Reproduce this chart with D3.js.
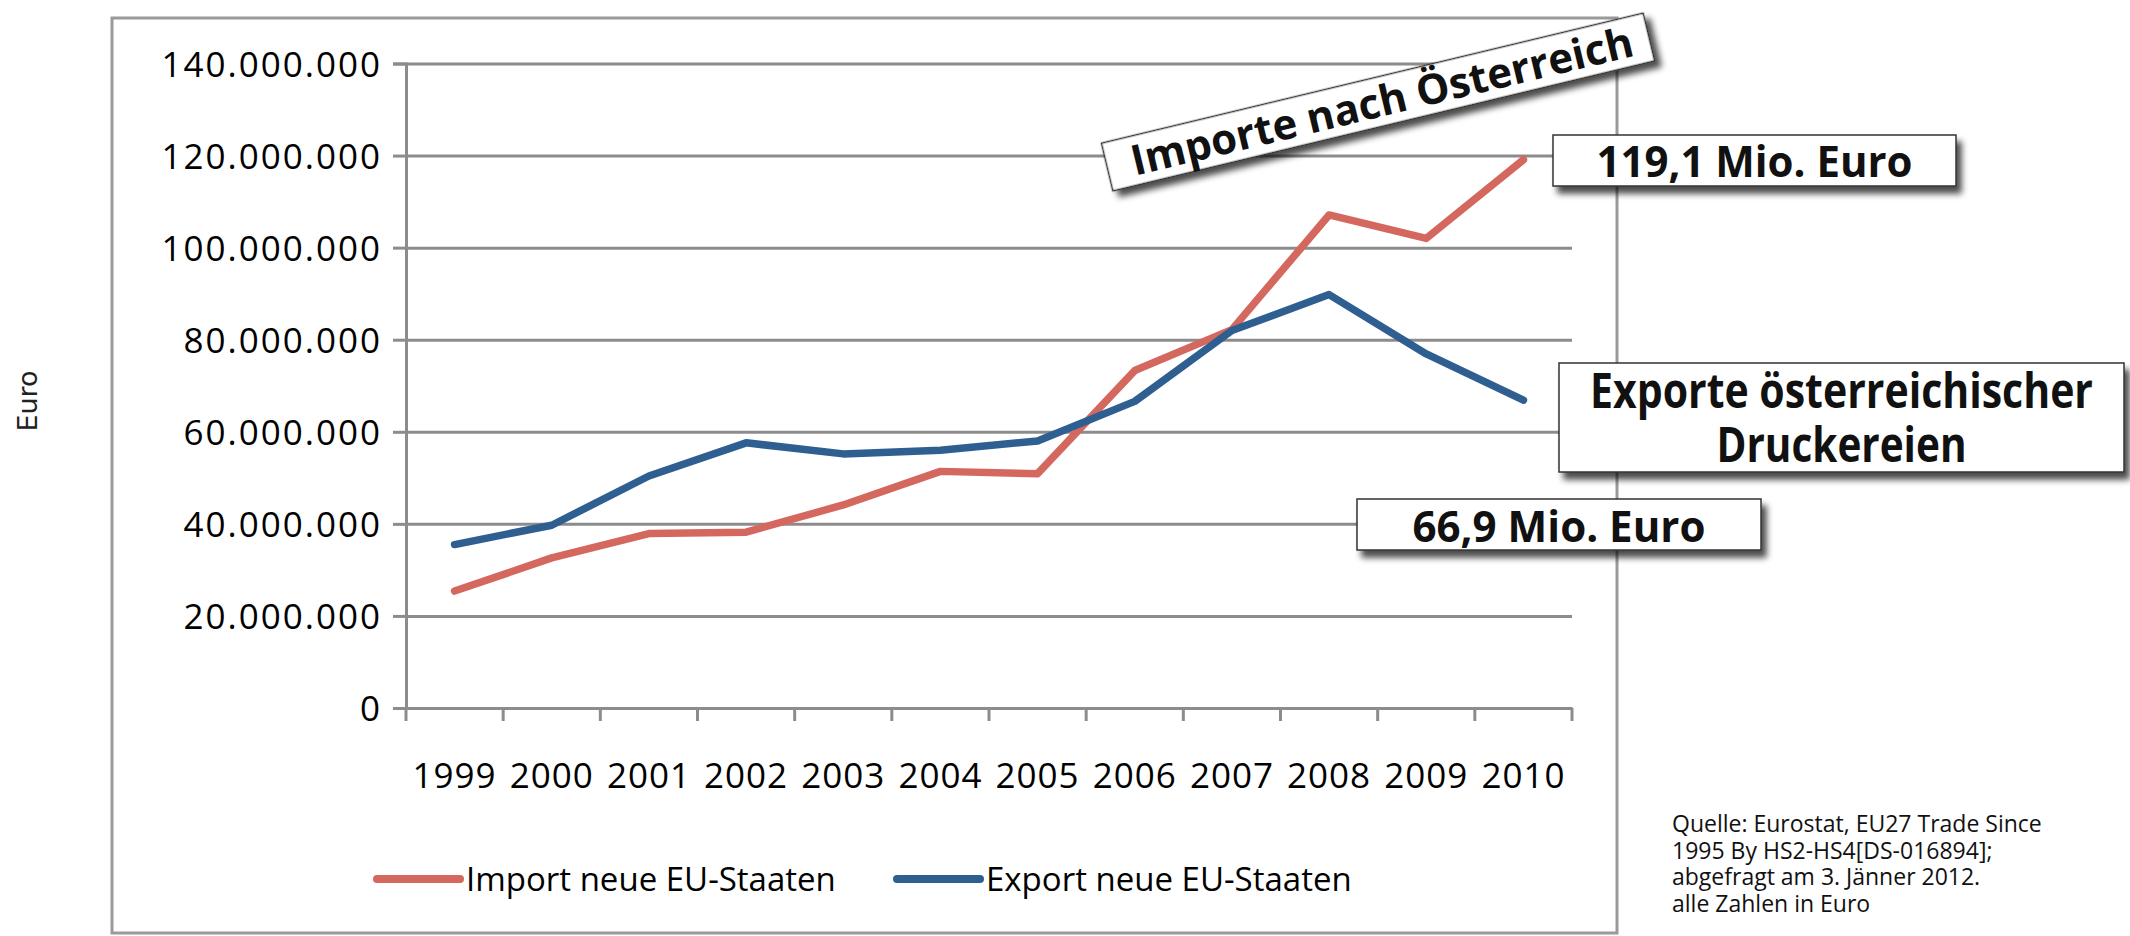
<!DOCTYPE html>
<html>
<head>
<meta charset="utf-8">
<script src="https://cdn.jsdelivr.net/npm/d3@7"></script>
<style>
  html, body { margin: 0; padding: 0; background: #fff; }
  svg { display: block; }
</style>
</head>
<body>
<div id="chart"></div>
<script>
// data
const years = ["1999", "2000", "2001", "2002", "2003", "2004", "2005", "2006", "2007", "2008", "2009", "2010"];
const importValues = [25400000, 32600000, 37900000, 38200000, 44100000, 51400000, 50900000, 73300000, 82200000, 107100000, 102000000, 119100000];
const exportValues = [35500000, 39700000, 50400000, 57600000, 55200000, 56000000, 58000000, 66600000, 82000000, 89800000, 76900000, 66900000];
const yTicks = [0, 20000000, 40000000, 60000000, 80000000, 100000000, 120000000, 140000000];
const seriesNames = ["Import neue EU-Staaten", "Export neue EU-Staaten"];
const seriesColors = ["#d4685f", "#2f5f91"];
const noteLines = [
  "Quelle: Eurostat, EU27 Trade Since",
  "1995 By HS2-HS4[DS-016894];",
  "abgefragt am 3. Jänner 2012.",
  "alle Zahlen in Euro"
];

const width = 2130, height = 936;
const plot = {left: 406, right: 1572, top: 63.5, bottom: 708};
const gridColor = "#8c8c8c";
const labelFont = "'Open Sans', sans-serif";
const boldFont = "'Open Sans', sans-serif";

const de = d3.formatLocale({decimal: ",", thousands: ".", grouping: [3], currency: ["", " €"]});
const fmtAxis = de.format(",d");
const fmtMio = de.format(",.1f");

const svg = d3.select("#chart")
  .append("svg")
    .attr("width", width)
    .attr("height", height);

const defs = svg.append("defs");
const shadow = defs.append("filter")
    .attr("id", "shadow")
    .attr("x", "-10%").attr("y", "-30%")
    .attr("width", "125%").attr("height", "190%");
shadow.append("feDropShadow")
    .attr("dx", 5).attr("dy", 7)
    .attr("stdDeviation", 3)
    .attr("flood-color", "#000")
    .attr("flood-opacity", 0.7);

// chart frame
svg.append("rect")
    .attr("x", 112).attr("y", 18)
    .attr("width", 1617 - 112).attr("height", 933 - 18)
    .attr("fill", "none")
    .attr("stroke", "#9a9a9a")
    .attr("stroke-width", 3);

const x = d3.scaleBand()
    .domain(years)
    .range([plot.left, plot.right])
    .padding(0);

const y = d3.scaleLinear()
    .domain([0, 140000000])
    .range([plot.bottom, plot.top]);

// gridlines
const grid = svg.append("g")
    .attr("transform", `translate(${plot.left},0)`)
    .call(d3.axisLeft(y).tickValues(yTicks).tickSize(-(plot.right - plot.left)).tickFormat(""));
grid.select(".domain").remove();
grid.selectAll("line").attr("stroke", gridColor).attr("stroke-width", 3);

// y axis
const yAxis = svg.append("g")
    .attr("transform", `translate(${plot.left},0)`)
    .call(d3.axisLeft(y).tickValues(yTicks).tickSize(13).tickPadding(11).tickFormat(fmtAxis));
yAxis.select(".domain").attr("stroke", gridColor).attr("stroke-width", 3);
yAxis.selectAll("line").attr("stroke", gridColor).attr("stroke-width", 3);
yAxis.selectAll("text")
    .attr("dy", "0.36em")
    .style("font-family", labelFont)
    .style("font-size", "35px")
    .style("letter-spacing", "2px")
    .attr("fill", "#000");

// x axis, ticks sit between the categories
const xAxis = svg.append("g")
    .attr("transform", `translate(0,${plot.bottom})`)
    .call(d3.axisBottom(x).tickSize(0).tickPadding(55).tickSizeOuter(0));
xAxis.select(".domain").attr("stroke", gridColor).attr("stroke-width", 3);
xAxis.selectAll("text")
    .style("font-family", labelFont)
    .style("font-size", "35px")
    .style("letter-spacing", "1px")
    .attr("fill", "#000");

const edges = years.map(d => x(d)).concat([x(years[years.length - 1]) + x.bandwidth()]);
xAxis.selectAll(".edge")
  .data(edges)
  .join("line")
    .attr("class", "edge")
    .attr("x1", d => d).attr("x2", d => d)
    .attr("y1", 0).attr("y2", 13)
    .attr("stroke", gridColor)
    .attr("stroke-width", 3);

// y axis title
svg.append("text")
    .attr("transform", "translate(27,401) rotate(-90)")
    .attr("text-anchor", "middle")
    .attr("dy", "0.36em")
    .style("font-family", "'DejaVu Sans', sans-serif")
    .style("font-size", "27px")
    .attr("fill", "#222")
    .text("Euro");

// lines
const line = d3.line()
    .x((d, i) => x(years[i]) + x.bandwidth() / 2)
    .y(d => y(d));

svg.selectAll(".series")
  .data([importValues, exportValues])
  .join("path")
    .attr("class", "series")
    .attr("d", d => line(d))
    .attr("fill", "none")
    .attr("stroke", (d, i) => seriesColors[i])
    .attr("stroke-width", 7.5)
    .attr("stroke-linejoin", "round")
    .attr("stroke-linecap", "round");

// legend
const legendX = [377, 897];
const legend = svg.selectAll(".legend")
  .data(seriesNames)
  .join("g")
    .attr("class", "legend")
    .attr("transform", (d, i) => `translate(${legendX[i]},879)`);
legend.append("line")
    .attr("x1", 0).attr("x2", 83)
    .attr("stroke", (d, i) => seriesColors[i])
    .attr("stroke-width", 8)
    .attr("stroke-linecap", "round");
legend.append("text")
    .attr("x", 89)
    .attr("dy", "0.36em")
    .style("font-family", labelFont)
    .style("font-size", "33px")
    .attr("fill", "#000")
    .text(d => d);

// annotation boxes
function box(g, w, h) {
  g.append("rect")
      .attr("x", -w / 2).attr("y", -h / 2)
      .attr("width", w).attr("height", h)
      .attr("fill", "#fff")
      .attr("stroke", "#333")
      .attr("stroke-width", 1.5)
      .attr("filter", "url(#shadow)");
}
function boldText(g, str, size, len, yPos, xPos) {
  g.append("text")
      .attr("x", xPos || 0).attr("y", yPos)
      .attr("text-anchor", "middle")
      .attr("textLength", len)
      .attr("lengthAdjust", "spacingAndGlyphs")
      .style("font-family", boldFont)
      .style("font-weight", 700)
      .style("font-size", size + "px")
      .attr("fill", "#111")
      .text(str);
}

const tilted = svg.append("g").attr("transform", "translate(1378,102) rotate(-13.5)");
box(tilted, 557, 49);
boldText(tilted, "Importe nach Österreich", 42, 515, 15, 4);

const lastImport = importValues[importValues.length - 1];
const lastExport = exportValues[exportValues.length - 1];

const impBox = svg.append("g").attr("transform", "translate(1754.5,160.5)");
box(impBox, 403, 51);
boldText(impBox, fmtMio(lastImport / 1e6) + " Mio. Euro", 43, 316, 16);

const expTitle = svg.append("g").attr("transform", "translate(1841.5,417.5)");
box(expTitle, 565, 109);
boldText(expTitle, "Exporte österreichischer", 48, 503, -9.5);
boldText(expTitle, "Druckereien", 48, 250, 44.5);

const expBox = svg.append("g").attr("transform", "translate(1559,524.5)");
box(expBox, 404, 51);
boldText(expBox, fmtMio(lastExport / 1e6) + " Mio. Euro", 43, 293, 17);

// source note
const note = svg.append("g").attr("transform", "translate(1672,0)");
note.selectAll("text")
  .data(noteLines)
  .join("text")
    .attr("x", 0)
    .attr("y", (d, i) => 832 + i * 26.7)
    .style("font-family", labelFont)
    .style("font-size", "23px")
    .attr("fill", "#111")
    .text(d => d);
</script>
</body>
</html>
